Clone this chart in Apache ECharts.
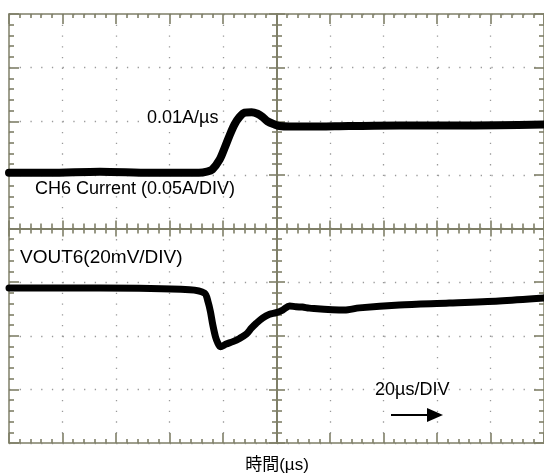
<!DOCTYPE html>
<html><head><meta charset="utf-8">
<script src="https://cdn.jsdelivr.net/npm/echarts@6/dist/echarts.min.js"></script>
<style>html,body{margin:0;padding:0;background:#fff}#c{width:544px;height:476px}</style>
</head><body><div id="c"></div>
<script>
// Time axis: 20 µs/DIV, 10 divisions
const timeMin = 0, timeMax = 200, timeDiv = 20;
// CH6 current (A), 0.05 A/DIV, top trace
const currentTime = [0, 15, 34, 53, 71, 74, 76, 78.7, 80.6, 82.5, 84.3, 86.2, 88.1, 90.7, 92.9, 94.8, 96.6, 99.3, 101.1, 105, 112, 127, 146, 165, 183, 200];
const currentA    = [0.252, 0.252, 0.253, 0.252, 0.252, 0.253, 0.255, 0.264, 0.275, 0.287, 0.297, 0.304, 0.308, 0.3085, 0.307, 0.304, 0.300, 0.297, 0.2955, 0.295, 0.295, 0.2955, 0.296, 0.296, 0.2962, 0.297];
const currentMin = 0, currentMax = 0.4, currentDiv = 0.05;
// VOUT6 deviation (mV), 20 mV/DIV, bottom trace
const voutTime = [0, 34, 67.5, 73.1, 74.4, 75.3, 76.2, 77.2, 78.1, 79.0, 81.2, 83.7, 86.2, 88.7, 90.6, 92.4, 94.9, 97.4, 99.9, 102.3, 104.9, 107.3, 109.7, 112.3, 125.4, 131, 145.9, 164.6, 183.2, 200];
const voutMV   = [-2.2, -2.2, -2.8, -4.1, -7.3, -11, -16, -20.4, -22.8, -24.1, -23.1, -22.2, -21, -19.4, -17.2, -15.4, -13.3, -12, -11.4, -10.4, -8.9, -9.2, -9.3, -9.7, -10.4, -9.6, -8.5, -7.8, -7.0, -5.9];
const voutMin = -60, voutMax = 100, voutDiv = 20;
// texts
const labelSlope = '0.01A/µs';
const labelCurrent = 'CH6 Current (0.05A/DIV)';
const labelVout = 'VOUT6(20mV/DIV)';
const labelTime = '20µs/DIV';
const xName = '時間(µs)';

const AX = '#7f7f68';
const DOT = '#9a9a9a';
const FONT = '"Liberation Sans", Arial, sans-serif';
const chart = echarts.init(document.getElementById('c'), null, {renderer: 'canvas'});

function ax(inside, len, mlen, lineShow, lw) {
  return {
    axisLabel: {show: false}, splitLine: {show: false},
    axisLine: {show: lineShow, onZero: false, lineStyle: {color: AX, width: lw}},
    axisTick: {show: true, inside: inside, length: len, lineStyle: {color: AX, width: 1.6}},
    minorTick: {show: true, splitNumber: 5, length: mlen, lineStyle: {color: AX, width: 1.6}}
  };
}
const dotted = {show: true, lineStyle: {color: DOT, width: 1.3, type: [1.3, 9.42]}};
const xb = {type: 'value', min: timeMin, max: timeMax, interval: timeDiv, gridIndex: 0};

const option = {
  animation: false,
  backgroundColor: '#fff',
  grid: {left: 9, right: -1, top: 14, bottom: 33, containLabel: false},
  xAxis: [
    Object.assign({}, xb, ax(true, 10, 4, true, 1.5), {position: 'bottom', splitLine: dotted}),
    Object.assign({}, xb, ax(true, 10, 4, true, 1.5), {position: 'top'}),
    Object.assign({}, xb, ax(true, 8, 5, true, 2), {position: 'bottom', offset: -214.5}),
    Object.assign({}, xb, ax(false, 8, 5, false, 2), {position: 'bottom', offset: -214.5})
  ],
  yAxis: [
    Object.assign({type: 'value', min: currentMin, max: currentMax, interval: currentDiv}, ax(true, 10, 5, true, 1.5), {position: 'left', splitLine: dotted}),
    Object.assign({type: 'value', min: voutMin, max: voutMax, interval: voutDiv}, ax(true, 10, 5, true, 1.5), {position: 'right'}),
    Object.assign({type: 'value', min: 0, max: 8, interval: 1}, ax(true, 8, 5, true, 2), {position: 'left', offset: -268}),
    Object.assign({type: 'value', min: 0, max: 8, interval: 1}, ax(false, 8, 5, false, 2), {position: 'left', offset: -268})
  ],
  series: [
    {type: 'line', name: 'CH6 Current', xAxisIndex: 0, yAxisIndex: 0, showSymbol: false, smooth: 0.3,
     data: currentTime.map((t, i) => [t, currentA[i]]),
     lineStyle: {color: '#000', width: 8, cap: 'round', join: 'round'}, z: 5},
    {type: 'line', name: 'VOUT6', xAxisIndex: 0, yAxisIndex: 1, showSymbol: false, smooth: 0.3,
     data: voutTime.map((t, i) => [t, voutMV[i]]),
     lineStyle: {color: '#000', width: 7, cap: 'round', join: 'round'}, z: 5}
  ],
  graphic: [
    {type: 'text', x: 147, y: 118, z: 10, style: {text: labelSlope, font: '18px ' + FONT, fill: '#000', verticalAlign: 'middle'}},
    {type: 'text', x: 35, y: 189, z: 10, style: {text: labelCurrent, font: '18px ' + FONT, fill: '#000', verticalAlign: 'middle'}},
    {type: 'text', x: 20, y: 258, z: 10, style: {text: labelVout, font: '19px ' + FONT, fill: '#000', verticalAlign: 'middle'}},
    {type: 'text', x: 375, y: 390, z: 10, style: {text: labelTime, font: '18px ' + FONT, fill: '#000', verticalAlign: 'middle'}},
    {type: 'line', z: 10, shape: {x1: 391, y1: 415, x2: 430, y2: 415}, style: {stroke: '#000', lineWidth: 2}},
    {type: 'polygon', z: 10, shape: {points: [[427, 408], [443, 415], [427, 422]]}, style: {fill: '#000'}},
    {type: 'text', x: 277, y: 465, z: 10, style: {text: xName, font: '17px "Liberation Sans", "Noto Sans CJK JP", sans-serif', fill: '#000', align: 'center', verticalAlign: 'middle'}}
  ]
};
chart.setOption(option);
</script>
</body></html>
